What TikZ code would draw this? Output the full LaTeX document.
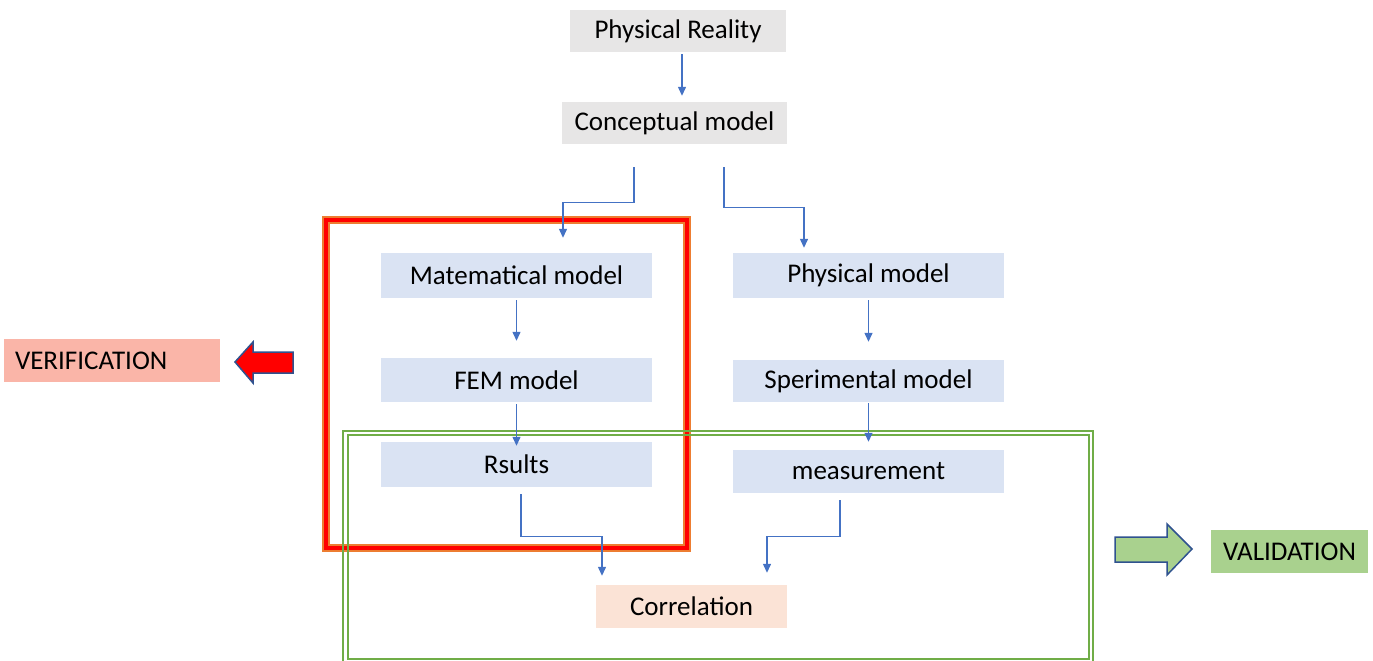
\documentclass[tikz,border=0pt]{standalone}
\usepackage{fontspec}
\setmainfont{Carlito}
\usetikzlibrary{arrows.meta}
\definecolor{grayfill}{HTML}{E7E6E6}
\definecolor{bluefill}{HTML}{DAE3F3}
\definecolor{peachfill}{HTML}{FBE3D6}
\definecolor{verfill}{HTML}{FAB5A8}
\definecolor{valfill}{HTML}{A9D18E}
\definecolor{connblue}{HTML}{4472C4}
\definecolor{arrowedge}{HTML}{2F528F}
\definecolor{greenline}{HTML}{70AD47}
\definecolor{orangeline}{HTML}{ED7D31}
\tikzset{
  box/.style={inner sep=0pt, font=\fontsize{27}{32}\selectfont, text=black},
  graybox/.style={box, fill=grayfill},
  bluebox/.style={box, fill=bluefill},
  conn/.style={draw=connblue, line width=1.3pt, -{Triangle[length=9pt,width=8pt]}},
  bigarrow/.style={draw=arrowedge, line width=1.5pt, line join=miter},
}
\begin{document}
\begin{tikzpicture}[x=1pt,y=-1pt]
\useasboundingbox (0,0) rectangle (1373,661);

% boxes
\node[graybox, minimum width=216pt, minimum height=42pt] (pr) at (678,31) {Physical Reality};
\node[graybox, minimum width=225pt, minimum height=42pt] (cm) at (674.5,123) {Conceptual model};
\node[bluebox, minimum width=271pt, minimum height=45pt] (mat) at (516.5,275.5) {Matematical model};
\node[bluebox, minimum width=271pt, minimum height=44pt] (fem) at (516.5,380) {FEM model};
\node[bluebox, minimum width=271pt, minimum height=45pt] (rs) at (516.5,464.5) {Rsults};
\node[bluebox, minimum width=271pt, minimum height=45pt] (phm) at (868.5,275.5) {Physical model};
\node[bluebox, minimum width=271pt, minimum height=42pt] (spm) at (868.5,381) {Sperimental model};
\node[bluebox, minimum width=271pt, minimum height=43pt] (meas) at (868.5,471.5) {measurement};
\node[box, fill=peachfill, minimum width=191pt, minimum height=43pt] (cor) at (691.5,606.5) {Correlation};
\node[box, fill=verfill, minimum height=43pt, text width=194pt, inner xsep=11pt, align=left] (ver) at (112,360.5) {VERIFICATION};
\node[box, fill=valfill, minimum width=157pt, minimum height=43pt] (val) at (1289.5,551.5) {VALIDATION};

% red verification frame
\draw[orangeline, line width=7.5pt] (326,220) rectangle (687,548);
\draw[red, line width=4.5pt] (326,220) rectangle (687,548);

% green validation frame (double line)
\draw[greenline, line width=1.6pt] (343,431) rectangle (1093,664);
\draw[greenline, line width=1.6pt] (348,435) rectangle (1089,659);

% connectors
\draw[conn] ([xshift=4pt,yshift=-2pt]pr.south) -- ([xshift=7.5pt,yshift=6pt]cm.north);
\draw[conn] ([xshift=-40.5pt,yshift=-23pt]cm.south) |- ([xshift=46.5pt,yshift=50pt]mat.north) -- ([xshift=46.5pt,yshift=15pt]mat.north);
\draw[conn] ([xshift=49.5pt,yshift=-23pt]cm.south) |- ([xshift=-64.5pt,yshift=45pt]phm.north) -- ([xshift=-64.5pt,yshift=5pt]phm.north);
\draw[conn] ([yshift=-2pt]mat.south) -- ([yshift=17pt]fem.north);
\draw[conn] ([yshift=-2pt]fem.south) -- ([yshift=-4pt]rs.north);
\draw[conn] ([yshift=-2pt]phm.south) -- ([yshift=18pt]spm.north);
\draw[conn] ([yshift=-1pt]spm.south) -- ([yshift=8pt]meas.north);
\draw[conn] ([xshift=4.5pt,yshift=-7pt]rs.south) |- ([xshift=-89.5pt,yshift=48pt]cor.north) -- ([xshift=-89.5pt,yshift=9pt]cor.north);
\draw[conn] ([xshift=-28.5pt,yshift=-7pt]meas.south) |- ([xshift=75.5pt,yshift=48pt]cor.north) -- ([xshift=75.5pt,yshift=12pt]cor.north);

% block arrows
\draw[bigarrow, fill=red] (235,362) -- (253,342) -- (253,352) -- (293,352) -- (293,373) -- (253,373) -- (253,383) -- cycle;
\draw[bigarrow, fill=valfill] (1192,549) -- (1167,524) -- (1167,537) -- (1115,537) -- (1115,562) -- (1167,562) -- (1167,575) -- cycle;
\end{tikzpicture}
\end{document}
